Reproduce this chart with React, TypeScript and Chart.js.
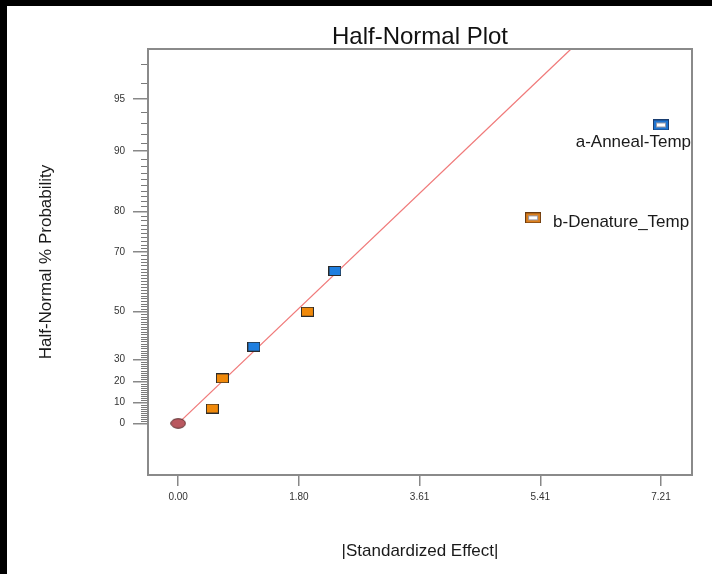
import { useEffect, useRef } from "react";
import { Chart, registerables } from "chart.js";

Chart.register(...registerables);

// ---- data (|standardized effect|, half-normal % probability) ----
const orangeEffects = [0.51, 0.66, 1.93];
const orangeProbs = [7.14, 21.43, 50.0];
const blueEffects = [1.13, 2.34];
const blueProbs = [35.71, 64.29];
const namedEffects = [7.21, 5.3];
const namedProbs = [92.86, 78.57];
const namedLabels = ["a-Anneal-Temp", "b-Denature_Temp"];
const namedColors = ["blue", "orange"];
const originEffects = [0];
const originProbs = [0];
const lineEffects = [0, 6.5];
const lineProbs = [0, 98.78];
const xTickValues = [0, 1.8025, 3.605, 5.4075, 7.21];
const xTickLabels = ["0.00", "1.80", "3.61", "5.41", "7.21"];
const yTickPercents = [0, 10, 20, 30, 50, 70, 80, 90, 95];
const yMinorPercents = Array.from({ length: 99 }, (_, i) => i + 1).filter(
  (p) => !yTickPercents.includes(p)
);
const chartTitle = "Half-Normal Plot";

const FONT = "'Liberation Sans', Arial, sans-serif";

function invNorm(p: number): number {
  const a = [-3.969683028665376e1, 2.209460984245205e2, -2.759285104469687e2, 1.38357751867269e2, -3.066479806614716e1, 2.506628277459239];
  const b = [-5.447609879822406e1, 1.615858368580409e2, -1.556989798598866e2, 6.680131188771972e1, -1.328068155288572e1];
  const c = [-7.784894002430293e-3, -3.223964580411365e-1, -2.400758277161838, -2.549671029745476, 4.374664141464968, 2.938163982698783];
  const d = [7.784695709041462e-3, 3.224671290700398e-1, 2.445134137142996, 3.754408661907416];
  const plow = 0.02425;
  const phigh = 1 - plow;
  if (p < plow) {
    const q = Math.sqrt(-2 * Math.log(p));
    return (((((c[0] * q + c[1]) * q + c[2]) * q + c[3]) * q + c[4]) * q + c[5]) /
      ((((d[0] * q + d[1]) * q + d[2]) * q + d[3]) * q + 1);
  }
  if (p > phigh) {
    const q = Math.sqrt(-2 * Math.log(1 - p));
    return -(((((c[0] * q + c[1]) * q + c[2]) * q + c[3]) * q + c[4]) * q + c[5]) /
      ((((d[0] * q + d[1]) * q + d[2]) * q + d[3]) * q + 1);
  }
  const q = p - 0.5;
  const r = q * q;
  return ((((((a[0] * r + a[1]) * r + a[2]) * r + a[3]) * r + a[4]) * r + a[5]) * q) /
    (((((b[0] * r + b[1]) * r + b[2]) * r + b[3]) * r + b[4]) * r + 1);
}
const halfNormal = (pct: number) => invNorm(0.5 + pct / 200);

function rectMarker(fill: string, w: number, h: number, hollow: boolean, edge = "#2b2b2b") {
  const c = document.createElement("canvas");
  c.width = w;
  c.height = h;
  const g = c.getContext("2d")!;
  g.fillStyle = fill;
  g.fillRect(0, 0, w, h);
  g.strokeStyle = edge;
  g.lineWidth = 1;
  g.strokeRect(0.5, 0.5, w - 1, h - 1);
  if (hollow) {
    g.fillStyle = "#ffffff";
    g.fillRect(3, 3, w - 6, h - 6);
    g.strokeStyle = "rgba(30,30,60,0.45)";
    g.strokeRect(3.5, 3.5, w - 7, h - 7);
  }
  return c;
}
function ellipseMarker(fill: string, w: number, h: number) {
  const c = document.createElement("canvas");
  c.width = w;
  c.height = h;
  const g = c.getContext("2d")!;
  g.beginPath();
  g.ellipse(w / 2, h / 2, w / 2 - 0.7, h / 2 - 0.7, 0, 0, Math.PI * 2);
  g.fillStyle = fill;
  g.fill();
  g.strokeStyle = "#5a3030";
  g.lineWidth = 1;
  g.stroke();
  return c;
}

export default function App() {
  const ref = useRef<HTMLCanvasElement | null>(null);

  useEffect(() => {
    if (!ref.current) return;
    Chart.defaults.font.family = FONT;

    const orangeImg = rectMarker("#f0890a", 13, 10, false);
    const blueImg = rectMarker("#1f7fe0", 13, 10, false);
    const namedImgs: Record<string, HTMLCanvasElement> = {
      blue: rectMarker("#1f74d0", 16, 11, true, "#1a3d70"),
      orange: rectMarker("#dc7f1c", 16, 11, true, "#6a3a10"),
    };
    const originImg = ellipseMarker("#b9585f", 16, 11);

    const boxPlugin = {
      id: "boxAndMinor",
      afterDraw(chart: any) {
        const { ctx, chartArea } = chart;
        const y = chart.scales.y;
        ctx.save();
        // minor ticks
        ctx.strokeStyle = "#7a7a7a";
        ctx.lineWidth = 1;
        ctx.beginPath();
        yMinorPercents.forEach((p) => {
          const py = Math.round(y.getPixelForValue(halfNormal(p))) + 0.5;
          if (py < chartArea.top || py > chartArea.bottom) return;
          ctx.moveTo(chartArea.left - 7, py);
          ctx.lineTo(chartArea.left, py);
        });
        ctx.stroke();
        // frame
        ctx.strokeStyle = "#8a8a8a";
        ctx.lineWidth = 2;
        ctx.strokeRect(chartArea.left, chartArea.top, chartArea.right - chartArea.left, chartArea.bottom - chartArea.top);
        // title centred over the plot frame
        ctx.fillStyle = "#111";
        ctx.font = `24px ${FONT}`;
        ctx.textAlign = "center";
        ctx.textBaseline = "middle";
        ctx.fillText(chartTitle, (chartArea.left + chartArea.right) / 2, chartArea.top - 12);
        // labels for named effects
        const meta = chart.getDatasetMeta(4);
        ctx.fillStyle = "#1a1a1a";
        ctx.font = `17px ${FONT}`;
        ctx.textBaseline = "middle";
        meta.data.forEach((pt: any, i: number) => {
          if (i === 0) {
            ctx.textAlign = "right";
            ctx.fillText(namedLabels[i], pt.x + 30, pt.y + 17);
          } else {
            ctx.textAlign = "left";
            ctx.fillText(namedLabels[i], pt.x + 20, pt.y + 4);
          }
        });
        ctx.restore();
      },
    };

    const toPts = (xs: number[], ps: number[]) => xs.map((x, i) => ({ x, y: halfNormal(ps[i]) }));

    const chart = new Chart(ref.current, {
      type: "scatter",
      data: {
        datasets: [
          { data: toPts(originEffects, originProbs), pointStyle: originImg as any, pointRadius: 7 },
          { data: toPts(orangeEffects, orangeProbs), pointStyle: orangeImg as any, pointRadius: 7 },
          { data: toPts(blueEffects, blueProbs), pointStyle: blueImg as any, pointRadius: 7 },
          { data: [] },
          {
            data: toPts(namedEffects, namedProbs),
            pointStyle: namedColors.map((c) => namedImgs[c]) as any,
            pointRadius: 8,
          },
          {
            type: "line",
            data: toPts(lineEffects, lineProbs),
            borderColor: "#f07a7a",
            borderWidth: 1.3,
            pointRadius: 0,
            fill: false,
          } as any,
        ],
      },
      options: {
        animation: false,
        responsive: true,
        maintainAspectRatio: false,
        layout: { padding: { top: 43, right: 20, bottom: 0, left: 0 } },
        plugins: {
          legend: { display: false },
          tooltip: { enabled: false },
          title: { display: false },
        },
        scales: {
          x: {
            type: "linear",
            min: -0.451,
            max: 7.673,
            afterBuildTicks: (s: any) => {
              s.ticks = xTickValues.map((v) => ({ value: v }));
            },
            afterFit: (s: any) => {
              s.height = 99;
            },
            ticks: {
              callback: (_v: any, i: number) => xTickLabels[i],
              color: "#333",
              font: { size: 10 },
              padding: 5,
              autoSkip: false,
              maxRotation: 0,
            },
            grid: { drawOnChartArea: false, drawTicks: true, tickLength: 11, color: "#888", lineWidth: 1.5 },
            border: { display: true, color: "#8a8a8a", width: 2 },
            title: {
              display: true,
              text: "|Standardized Effect|",
              color: "#1a1a1a",
              font: { size: 17, lineHeight: 1.2 },
              padding: { top: 0, bottom: 12 },
            },
          },
          y: {
            type: "linear",
            min: -0.312,
            max: 2.262,
            afterBuildTicks: (s: any) => {
              s.ticks = yTickPercents.map((p) => ({ value: halfNormal(p) }));
            },
            afterFit: (s: any) => {
              s.width = 141;
            },
            ticks: {
              callback: (_v: any, i: number) => String(yTickPercents[i]),
              color: "#333",
              font: { size: 10 },
              padding: 8,
              autoSkip: false,
            },
            grid: { drawOnChartArea: false, drawTicks: true, tickLength: 15, color: "#888", lineWidth: 1.5 },
            border: { display: true, color: "#8a8a8a", width: 2 },
            title: {
              display: true,
              text: "Half-Normal % Probability",
              color: "#1a1a1a",
              font: { size: 17, lineHeight: 1.2 },
              padding: { top: 29, bottom: 0 },
            },
          },
        },
      },
      plugins: [boxPlugin],
    });
    return () => chart.destroy();
  }, []);

  return (
    <div
      style={{
        position: "fixed",
        left: 0,
        top: 0,
        width: 712,
        height: 574,
        boxSizing: "border-box",
        background: "#fff",
        borderTop: "6px solid #000",
        borderLeft: "7px solid #000",
      }}
    >
      <div style={{ position: "relative", width: 705, height: 568 }}>
        <canvas ref={ref} />
      </div>
    </div>
  );
}
